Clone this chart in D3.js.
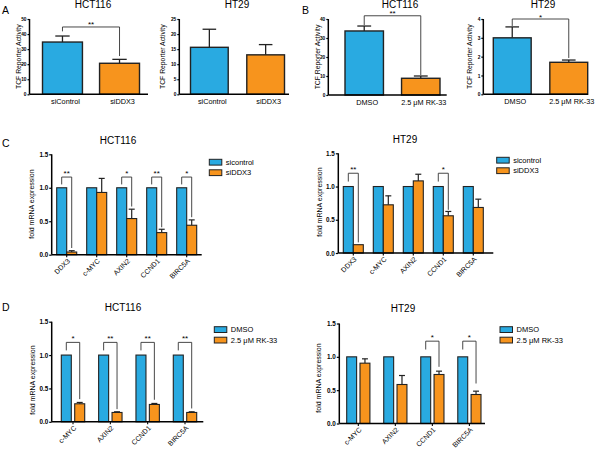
<!DOCTYPE html>
<html lang="en">
<head>
    <meta charset="UTF-8">
    <title>TCF reporter and mRNA expression</title>
    <script type="text/javascript" src="https://cdnjs.cloudflare.com/ajax/libs/d3/7.8.5/d3.min.js"></script>
    <style>
        body { margin: 0; background: white; }
        svg { font-family: "Liberation Sans", Arial, sans-serif; }
        .tick text { font-weight: bold; }
    </style>
</head>
<body>
<svg id="fig" width="600" height="453"></svg>

<script type="text/javascript">
    const BLUE = "#29aae1";
    const ORANGE = "#f7941d";

    // panel A / B categories
    const catsA = ["siControl", "siDDX3"];
    const catsB = ["DMSO", "2.5 μM RK-33"];

    // TCF reporter activity (mean, sem)
    const a1Mean = [34.7, 20.6], a1Sem = [4.0, 2.6];
    const a2Mean = [15.6, 13.1], a2Sem = [6.0, 3.4];
    const b1Mean = [33.7, 8.8], b1Sem = [2.6, 1.2];
    const b2Mean = [3.0, 1.7], b2Sem = [0.58, 0.12];

    // panel C / D genes
    const genesC = ["DDX3", "c-MYC", "AXIN2", "CCND1", "BIRC5A"];
    const genesD = ["c-MYC", "AXIN2", "CCND1", "BIRC5A"];
    const seriesC = ["sicontrol", "siDDX3"];
    const seriesD = ["DMSO", "2.5 μM RK-33"];

    const c1Ctrl = [1, 1, 1, 1, 1];
    const c1Kd = [0.04, 0.93, 0.54, 0.33, 0.44], c1KdSem = [0.02, 0.21, 0.14, 0.05, 0.08];
    const c2Ctrl = [1, 1, 1, 1, 1];
    const c2Kd = [0.125, 0.725, 1.085, 0.56, 0.685], c2KdSem = [0, 0.135, 0.10, 0.065, 0.125];
    const d1Ctrl = [1, 1, 1, 1];
    const d1Rk = [0.27, 0.14, 0.26, 0.14], d1RkSem = [0.02, 0.01, 0.015, 0.01];
    const d2Ctrl = [1, 1, 1, 1];
    const d2Rk = [0.905, 0.585, 0.735, 0.435], d2RkSem = [0.065, 0.135, 0.05, 0.05];

    // significance brackets
    const sigA1 = {top: 44.7, left: 41.8, right: 25.4, label: "**"};
    const sigB1 = {top: 41.7, left: 36.8, right: 10.5, label: "**"};
    const sigB2 = {top: 4.0, left: 3.63, right: 1.93, label: "*"};
    const sigC1 = [["DDX3", "**", 0.10], ["AXIN2", "*", 0.72], ["CCND1", "**", 0.41], ["BIRC5A", "*", 0.56]];
    const sigC2 = [["DDX3", "**", 0.16], ["CCND1", "*", 0.65]];
    const sigD1 = [["c-MYC", "*", 0.34], ["AXIN2", "**", 0.19], ["CCND1", "**", 0.33], ["BIRC5A", "**", 0.20]];
    const sigD2 = [["CCND1", "*", 0.85], ["BIRC5A", "*", 0.60]];

    const svg = d3.select("#fig");

    // panel letters
    [["A", 2, 14], ["B", 302, 14], ["C", 2, 147], ["D", 2, 311]].forEach(function(l) {
        svg.append("text").attr("x", l[1]).attr("y", l[2])
            .attr("font-size", 10.5).text(l[0]);
    });

    function yAxisDraw(g, y, x0, ticks, fmt, fs, size) {
        const ax = g.append("g")
            .attr("transform", "translate(" + x0 + ",0)")
            .call(d3.axisLeft(y).tickValues(ticks).tickFormat(fmt).tickSize(size).tickPadding(1));
        ax.select(".domain").attr("stroke-width", 1.5).attr("d", "M0," + y.range()[0] + "V" + y.range()[1]);
        ax.selectAll(".tick line").attr("stroke-width", 1.2);
        ax.selectAll(".tick text").attr("font-size", fs).attr("font-family", "Liberation Sans");
        return ax;
    }

    // simple two bar panel (A, B)
    function barPanel(o) {
        const g = svg.append("g");
        const x = d3.scaleBand().domain(o.cats).range(o.band).paddingInner(o.pad);
        const y = d3.scaleLinear().domain(o.dom).range(o.yr);

        g.append("text").attr("x", o.titleX).attr("y", 8).attr("text-anchor", "middle")
            .attr("font-size", 10).text(o.title);

        g.append("text")
            .attr("transform", "translate(" + o.ylabX + "," + (o.yr[0] + o.yr[1]) / 2 + ") rotate(-90)")
            .attr("text-anchor", "middle").attr("font-size", 6.8).text("TCF Reporter Activity");

        const data = o.cats.map(function(c, i) { return {c: c, m: o.mean[i], s: o.sem[i], col: i ? ORANGE : BLUE}; });

        // error bars
        const cap = x.bandwidth() * 0.36;
        data.forEach(function(d) {
            const cx = x(d.c) + x.bandwidth() / 2;
            g.append("line").attr("x1", cx).attr("x2", cx).attr("y1", y(d.m)).attr("y2", y(d.m + d.s))
                .attr("stroke", "#222").attr("stroke-width", 1.3);
            g.append("line").attr("x1", cx - cap / 2).attr("x2", cx + cap / 2)
                .attr("y1", y(d.m + d.s)).attr("y2", y(d.m + d.s))
                .attr("stroke", "#222").attr("stroke-width", 1.3);
        });

        g.selectAll("rect.bar").data(data).enter().append("rect")
            .attr("x", d => x(d.c)).attr("width", x.bandwidth())
            .attr("y", d => y(d.m)).attr("height", d => y(0) - y(d.m))
            .attr("fill", d => d.col).attr("stroke", "#222").attr("stroke-width", 1.4);

        yAxisDraw(g, y, o.axX, o.ticks, d3.format("d"), 4.8, 2);
        g.append("line").attr("x1", o.axX).attr("x2", o.axEnd).attr("y1", y(0)).attr("y2", y(0))
            .attr("stroke", "#000").attr("stroke-width", 1.5);

        g.selectAll("text.xl").data(o.cats).enter().append("text")
            .attr("x", d => x(d) + x.bandwidth() / 2 + 3).attr("y", y(0) + 9.5)
            .attr("text-anchor", "middle").attr("font-size", 7.3).text(d => d);

        if (o.sig) {
            const xl = x(o.cats[0]) + x.bandwidth() / 2, xr = x(o.cats[1]) + x.bandwidth() / 2;
            g.append("path")
                .attr("d", "M" + xl + "," + y(o.sig.left) + "V" + y(o.sig.top) + "H" + xr + "V" + y(o.sig.right))
                .attr("fill", "none").attr("stroke", "#333").attr("stroke-width", 0.9);
            g.append("text").attr("x", (xl + xr) / 2).attr("y", y(o.sig.top) + 0.5)
                .attr("text-anchor", "middle").attr("font-size", 8).text(o.sig.label);
        }
    }

    // grouped bar panel (C, D)
    function groupPanel(o) {
        const g = svg.append("g");
        const x0 = d3.scaleBand().domain(o.genes).range(o.band).paddingInner(o.pad);
        const x1 = d3.scaleBand().domain(o.series).range([0, x0.bandwidth()]).paddingInner(o.innerPad);
        const y = d3.scaleLinear().domain([0, 1.5]).range(o.yr);

        g.append("text").attr("x", o.titleX).attr("y", o.titleY).attr("text-anchor", "middle")
            .attr("font-size", 10).text(o.title);

        g.append("text")
            .attr("transform", "translate(" + o.ylabX + "," + o.ylabY + ") rotate(-90)")
            .attr("text-anchor", "middle").attr("font-size", 7).text("fold mRNA expression");

        const vals = [o.ctrl, o.trt];
        const sems = [o.genes.map(() => 0), o.trtSem];
        const cap = x1.bandwidth() * 0.6;

        o.genes.forEach(function(gene, gi) {
            o.series.forEach(function(s, si) {
                const v = vals[si][gi], e = sems[si][gi];
                const bx = x0(gene) + x1(s);
                const cx = bx + x1.bandwidth() / 2;
                if (e > 0) {
                    g.append("line").attr("x1", cx).attr("x2", cx).attr("y1", y(v)).attr("y2", y(v + e))
                        .attr("stroke", "#222").attr("stroke-width", 1.2);
                    g.append("line").attr("x1", cx - cap / 2).attr("x2", cx + cap / 2)
                        .attr("y1", y(v + e)).attr("y2", y(v + e))
                        .attr("stroke", "#222").attr("stroke-width", 1.2);
                }
                g.append("rect").attr("x", bx).attr("width", x1.bandwidth())
                    .attr("y", y(v)).attr("height", y(0) - y(v))
                    .attr("fill", si ? ORANGE : BLUE).attr("stroke", "#222").attr("stroke-width", 1.1);
            });
        });

        yAxisDraw(g, y, o.axX, [0, 0.5, 1.0, 1.5], d3.format(".1f"), 6.3, 2.5);

        // x axis with ticks at group centres
        const xa = g.append("g").attr("transform", "translate(0," + y(0) + ")");
        xa.append("line").attr("x1", o.axX).attr("x2", o.axEnd).attr("stroke", "#000").attr("stroke-width", 1.5);
        o.genes.forEach(function(gene) {
            const cx = x0(gene) + x0.bandwidth() / 2;
            xa.append("line").attr("x1", cx).attr("x2", cx).attr("y1", 0).attr("y2", 2.5)
                .attr("stroke", "#000").attr("stroke-width", 1.1);
            xa.append("text").attr("transform", "translate(" + (cx + 2) + ",5) rotate(-45)")
                .attr("text-anchor", "end").attr("dy", "0.35em").attr("font-size", 7).text(gene);
        });

        // brackets
        o.sig.forEach(function(b) {
            const gx = x0(b[0]);
            const xl = gx + x1(o.series[0]) + x1.bandwidth() / 2;
            const xr = gx + x1(o.series[1]) + x1.bandwidth() / 2;
            g.append("path")
                .attr("d", "M" + xl + "," + y(o.sigLeft) + "V" + y(o.sigTop) + "H" + xr + "V" + y(b[2]))
                .attr("fill", "none").attr("stroke", "#333").attr("stroke-width", 0.9);
            g.append("text").attr("x", (xl + xr) / 2).attr("y", y(o.sigTop) - 1.5)
                .attr("text-anchor", "middle").attr("font-size", 8).text(b[1]);
        });

        // legend
        o.series.forEach(function(s, i) {
            const ly = o.legY + i * 10.5;
            g.append("rect").attr("x", o.legX).attr("y", ly).attr("width", 12.5).attr("height", 5.8)
                .attr("fill", i ? ORANGE : BLUE).attr("stroke", "#222").attr("stroke-width", 1);
            g.append("text").attr("x", o.legX + 16.5).attr("y", ly + 3).attr("dy", "0.35em")
                .attr("font-size", 7.5).text(s);
        });
    }

    barPanel({cats: catsA, mean: a1Mean, sem: a1Sem, band: [42.5, 139.5], pad: 0.3,
        dom: [0, 50], yr: [94.3, 19], ticks: d3.range(0, 51, 10), axX: 29.5, axEnd: 148,
        title: "HCT116", titleX: 93, ylabX: 20.5, sig: sigA1});
    barPanel({cats: catsA, mean: a2Mean, sem: a2Sem, band: [190.5, 284.5], pad: 0.33,
        dom: [0, 25], yr: [94.3, 19], ticks: d3.range(0, 26, 5), axX: 179.3, axEnd: 289,
        title: "HT29", titleX: 237, ylabX: 165, sig: null});
    barPanel({cats: catsB, mean: b1Mean, sem: b1Sem, band: [345, 440], pad: 0.32,
        dom: [0, 40], yr: [95, 19], ticks: d3.range(0, 41, 10), axX: 328.3, axEnd: 446.7,
        title: "HCT116", titleX: 400, ylabX: 320, sig: sigB1});
    barPanel({cats: catsB, mean: b2Mean, sem: b2Sem, band: [493.3, 587.7], pad: 0.33,
        dom: [0, 4], yr: [94.3, 19], ticks: d3.range(0, 5, 1), axX: 483.3, axEnd: 588,
        title: "HT29", titleX: 543, ylabX: 472, sig: sigB2});

    groupPanel({genes: genesC, series: seriesC, ctrl: c1Ctrl, trt: c1Kd, trtSem: c1KdSem,
        band: [56.7, 196.7], pad: 0.333, innerPad: 0, yr: [254.7, 154.3], axX: 51.7, axEnd: 201.7,
        title: "HCT116", titleX: 118, titleY: 144, ylabX: 34, ylabY: 204,
        sig: sigC1, sigTop: 1.16, sigLeft: 1.05, legX: 209.3, legY: 159.3});
    groupPanel({genes: genesC, series: seriesC, ctrl: c2Ctrl, trt: c2Kd, trtSem: c2KdSem,
        band: [343.3, 483.3], pad: 0.333, innerPad: 0, yr: [253, 153.3], axX: 338.3, axEnd: 493.3,
        title: "HT29", titleX: 405, titleY: 142.7, ylabX: 322, ylabY: 202,
        sig: sigC2, sigTop: 1.2, sigLeft: 1.075, legX: 496.7, legY: 157.3});
    groupPanel({genes: genesD, series: seriesD, ctrl: d1Ctrl, trt: d1Rk, trtSem: d1RkSem,
        band: [61.3, 196.7], pad: 0.373, innerPad: 0.254, yr: [421.8, 321.7], axX: 51.7, axEnd: 203.3,
        title: "HCT116", titleX: 123, titleY: 311, ylabX: 35, ylabY: 380,
        sig: sigD1, sigTop: 1.19, sigLeft: 1.07, legX: 214.3, legY: 326.7});
    groupPanel({genes: genesD, series: seriesD, ctrl: d2Ctrl, trt: d2Rk, trtSem: d2RkSem,
        band: [346.7, 481], pad: 0.373, innerPad: 0.254, yr: [423.5, 323.5], axX: 339.3, axEnd: 485,
        title: "HT29", titleX: 403, titleY: 312, ylabX: 321, ylabY: 378,
        sig: sigD2, sigTop: 1.235, sigLeft: 1.11, legX: 500, legY: 326.7});
</script>
</body>
</html>
